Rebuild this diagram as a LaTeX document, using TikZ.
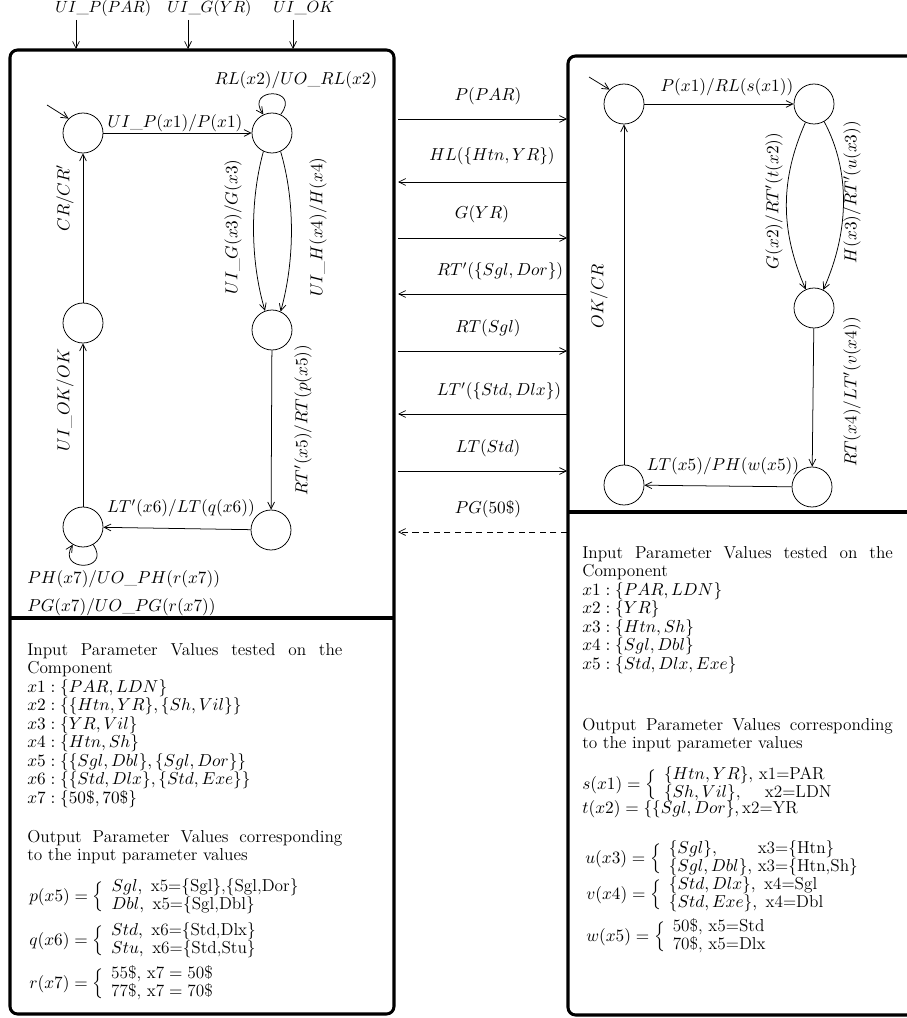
\RequirePackage{fix-cm}
\documentclass[tikz,border=0pt]{standalone}
\usepackage{amsmath}
\usetikzlibrary{arrows.meta}
\delimiterfactor=800
\begin{document}
\begin{tikzpicture}[x=0.66pt,y=-0.66pt,
  every node/.style={font=\fontsize{11.4}{12.2}\selectfont},
  st/.style={circle,draw,line width=0.5pt,minimum size=26.4pt,inner sep=0pt},
  tr/.style={line width=0.5pt,-{Straight Barb[length=4.5pt,width=4.5pt]}},
  lab/.style={inner sep=0pt},
  toplab/.style={inner sep=0pt,anchor=base west,font=\fontsize{10.7}{12}\selectfont},
  vlab/.style={inner sep=0pt,rotate=90},
  box/.style={line width=2pt,rounded corners=5pt},
  txt/.style={inner sep=0pt,anchor=north west,align=left},
  eq/.style={inner sep=0pt,anchor=west}]
\useasboundingbox (0,0) rectangle (906,1018);

% boxes
\draw[box] (10,50) rectangle (394,1014);
\draw[line width=2pt] (10,618) -- (394,618);
\draw[box] (568,56) rectangle (960,1015);
\draw[line width=2pt] (568,512) -- (960,512);

% top inputs
\coordinate (t1s) at (76,20); \coordinate (t1e) at (76,49);
\coordinate (t2s) at (188,20); \coordinate (t2e) at (188,49);
\coordinate (t3s) at (293,20); \coordinate (t3e) at (293,49);
\draw[tr] (t1s) -- (t1e);
\draw[tr] (t2s) -- (t2e);
\draw[tr] (t3s) -- (t3e);
\node[toplab] (tl1) at (55,13) {$UI\_P(PAR)$};
\node[toplab] (tl2) at (167,13) {$UI\_G(YR)$};
\node[toplab] (tl3) at (273,13) {$UI\_OK$};

% left machine
\node[st] (A) at (83,133) {};
\node[st] (B) at (272,133) {};
\node[st] (C) at (272,330) {};
\node[st] (D) at (271,530) {};
\node[st] (E) at (83,527) {};
\node[st] (F) at (83,323) {};
\coordinate (iA) at (47,105);
\draw[tr] (iA) -- (A.135);
\draw[tr] (A) -- (B);
\draw[tr] (B.65) .. controls (302,87) and (244,87) .. (B.115);
\draw[tr] (B.245) .. controls (250,200) and (250,260) .. (C.110);
\draw[tr] (B.295) .. controls (295,200) and (295,260) .. (C.65);
\draw[tr] (C) -- (D);
\draw[tr] (D) -- (E);
\draw[tr] (E.-60) .. controls (112,572) and (56,572) .. (E.-120);
\draw[tr] (E) -- (F);
\draw[tr] (F) -- (A);
\node[lab] (lAB) at (175,123) {$UI\_P(x1)/P(x1)$};
\node[lab] (lBB) at (296,80) {$RL(x2)/UO\_RL(x2)$};
\node[vlab] (lBC1) at (233,227) {$UI\_G(x3)/G(x3)$};
\node[vlab] (lBC2) at (318,227) {$UI\_H(x4)/H(x4)$};
\node[vlab] (lCD) at (303,420) {$RT'(x5)/RT(p(x5))$};
\node[lab] (lDE) at (181,508) {$LT'(x6)/LT(q(x6))$};
\node[vlab] (lEF) at (65,400) {$UI\_OK/OK$};
\node[vlab] (lFA) at (65,198) {$CR/CR'$};
\node[lab,anchor=west] (lEE1) at (27,579) {$PH(x7)/UO\_PH(r(x7))$};
\node[lab,anchor=west] (lEE2) at (27,607) {$PG(x7)/UO\_PG(r(x7))$};

% messages between components
\coordinate (mL1) at (398,119); \coordinate (mR1) at (567,119);
\coordinate (mL2) at (398,182); \coordinate (mR2) at (567,182);
\coordinate (mL3) at (398,238); \coordinate (mR3) at (567,238);
\coordinate (mL4) at (398,294); \coordinate (mR4) at (567,294);
\coordinate (mL5) at (398,351); \coordinate (mR5) at (567,351);
\coordinate (mL6) at (398,414); \coordinate (mR6) at (567,414);
\coordinate (mL7) at (398,471); \coordinate (mR7) at (567,471);
\coordinate (mL8) at (398,532); \coordinate (mR8) at (567,532);
\draw[tr] (mL1) -- (mR1);
\draw[tr] (mR2) -- (mL2);
\draw[tr] (mL3) -- (mR3);
\draw[tr] (mR4) -- (mL4);
\draw[tr] (mL5) -- (mR5);
\draw[tr] (mR6) -- (mL6);
\draw[tr] (mL7) -- (mR7);
\draw[tr,dash pattern=on 4pt off 3pt] (mR8) -- (mL8);
\node[lab] (ml1) at (488,96) {$P(PAR)$};
\node[lab] (ml2) at (492,156) {$HL(\{Htn,YR\})$};
\node[lab] (ml3) at (482,214) {$G(YR)$};
\node[lab] (ml4) at (500,271) {$RT'(\{Sgl,Dor\})$};
\node[lab] (ml5) at (488,328) {$RT(Sgl)$};
\node[lab] (ml6) at (499,391) {$LT'(\{Std,Dlx\})$};
\node[lab] (ml7) at (488,448) {$LT(Std)$};
\node[lab] (ml8) at (488,509) {$PG(50\$)$};

% right machine
\node[st] (RA) at (624,104) {};
\node[st] (RB) at (814,104) {};
\node[st] (RC) at (814,308) {};
\node[st] (RD) at (812,487) {};
\node[st] (RE) at (624,485) {};
\coordinate (iRA) at (589,77);
\draw[tr] (iRA) -- (RA.135);
\draw[tr] (RA) -- (RB);
\draw[tr] (RB.245) .. controls (780,180) and (780,230) .. (RC.114);
\draw[tr] (RB.300) .. controls (850,170) and (850,230) .. (RC.63);
\draw[tr] (RC) -- (RD);
\draw[tr] (RD) -- (RE);
\draw[tr] (RE) -- (RA);
\node[lab] (lRAB) at (727,87) {$P(x1)/RL(s(x1))$};
\node[vlab] (lRBC1) at (774,201) {$G(x2)/RT'(t(x2))$};
\node[vlab] (lRBC2) at (852,192) {$H(x3)/RT'(u(x3))$};
\node[vlab] (lRCD) at (852,392) {$RT(x4)/LT'(v(x4))$};
\node[lab] (lRDE) at (723,466) {$LT(x5)/PH(w(x5))$};
\node[vlab] (lREA) at (599,296) {$OK/CR$};

% left text
\node[txt] (inL) at (27,643) {\parbox{208pt}{Input Parameter Values tested on the\linebreak Component\\
$x1:\{PAR,LDN\}$\\
$x2:\{\{Htn,YR\},\{Sh,Vil\}\}$\\
$x3:\{YR,Vil\}$\\
$x4:\{Htn,Sh\}$\\
$x5:\{\{Sgl,Dbl\},\{Sgl,Dor\}\}$\\
$x6:\{\{Std,Dlx\},\{Std,Exe\}\}$\\
$x7:\{50\$,70\$\}$}};
\node[txt] (outL) at (27,830) {\parbox{208pt}{Output Parameter Values corresponding\linebreak to the input parameter values}};
\node[eq] (pL) at (29,897) {$p(x5)=\left\{\begin{array}{l}Sgl,\ \mbox{x5=\{Sgl\},\{Sgl,Dor\}}\\ Dbl,\ \mbox{x5=\{Sgl,Dbl\}}\end{array}\right.$};
\node[eq] (qL) at (29,941) {$q(x6)=\left\{\begin{array}{l}Std,\ \mbox{x6=\{Std,Dlx\}}\\ Stu,\ \mbox{x6=\{Std,Stu\}}\end{array}\right.$};
\node[eq] (rL) at (29,984) {$r(x7)=\left\{\begin{array}{l}\mbox{55\$, x7} = \mbox{50\$}\\ \mbox{77\$, x7} = \mbox{70\$}\end{array}\right.$};

% right text
\node[txt] (inR) at (582,546) {\parbox{205pt}{Input Parameter Values tested on the\linebreak Component\\
$x1:\{PAR,LDN\}$\\
$x2:\{YR\}$\\
$x3:\{Htn,Sh\}$\\
$x4:\{Sgl,Dbl\}$\\
$x5:\{Std,Dlx,Exe\}$}};
\node[txt] (outR) at (582,718) {\parbox{205pt}{Output Parameter Values corresponding\linebreak to the input parameter values}};
\node[eq] (sR) at (582,785) {$s(x1)=\left\{\begin{array}{l@{\ }l}\{Htn,YR\}, & \mbox{x1=PAR}\\ \{Sh,Vil\}, & \hspace{4pt}\mbox{x2=LDN}\end{array}\right.$};
\node[eq] (tR) at (582,809) {$t(x2)=\{\{Sgl,Dor\},\mbox{x2=YR}$};
\node[eq] (uR) at (585,859) {$u(x3)=\left\{\begin{array}{l@{\ }l}\{Sgl\}, & \mbox{x3=\{Htn\}}\\ \{Sgl,Dbl\}, & \mbox{x3=\{Htn,Sh\}}\end{array}\right.$};
\node[eq] (vR) at (586,895) {$v(x4)=\left\{\begin{array}{l}\{Std,Dlx\},\ \mbox{x4=Sgl}\\ \{Std,Exe\},\ \mbox{x4=Dbl}\end{array}\right.$};
\node[eq] (wR) at (586,937) {$w(x5)=\left\{\begin{array}{l}\mbox{50\$, x5=Std}\\ \mbox{70\$, x5=Dlx}\end{array}\right.$};
\end{tikzpicture}
\end{document}
